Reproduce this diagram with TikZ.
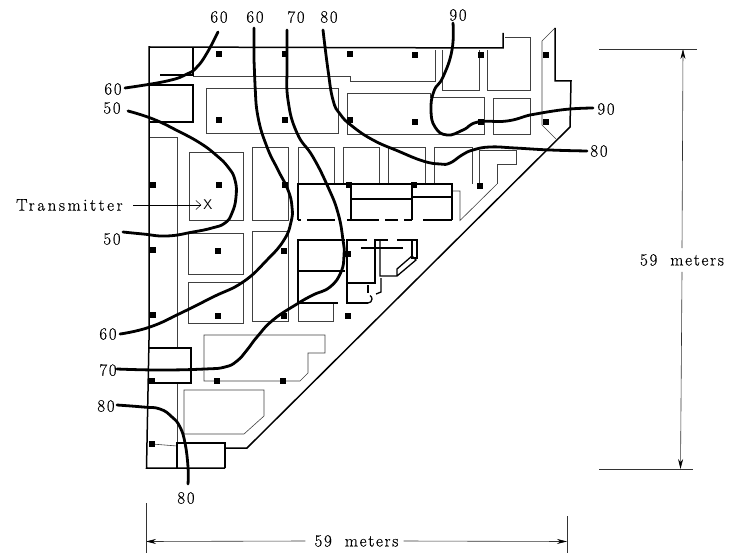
\documentclass[tikz,border=0pt]{standalone}
\usepackage{fontspec}
\setmainfont{Latin Modern Roman}
\newfontfamily\widefont[LetterSpace=10,FakeBold=0.4]{Latin Modern Roman}
\newfontfamily\widerfont[LetterSpace=15,FakeBold=0.4]{Latin Modern Roman}
\usetikzlibrary{arrows.meta}
\tikzset{
  thinw/.style={line width=0.6pt,black!75},
  wall/.style={line width=1.5pt,black},
  iwall/.style={line width=1.3pt,black},
  contour/.style={line width=2.8pt,black,line cap=round},
  lab/.style={font=\widefont\fontsize{17}{20}\selectfont,inner sep=0pt},
  dim/.style={line width=0.6pt,black!80,-{Stealth[length=10pt,width=5pt,black]}},
  tick/.style={line width=0.7pt,black!80},
  ap/.style={fill=black,inner sep=0pt,minimum size=5.2pt,rectangle},
  smoothc/.style={smooth,tension=0.8}
}
\begin{document}
\begin{tikzpicture}[x=1pt,y=-1pt]
\useasboundingbox (0,0) rectangle (730,553);
% thin interior blocks
\draw[thinw] (193,76)--(350,76)--(350,81)--(435,81)--(435,50);
\draw[thinw] (442,50)--(442,90)--(479,90)--(479,50);
\draw[thinw] (505,37)--(530,37)--(530,90)--(487,90)--(487,50);
\draw[thinw] (206,88)--(338,88)--(338,133)--(206,133)--cycle;
\draw[thinw] (347,93)--(430,93)--(430,97.5)--(484,97.5)--(484,134)--(347,134)--cycle;
\draw[thinw] (493,98)--(530,98)--(530,134)--(493,134)--cycle;
\draw[thinw] (555,28)--(542,41)--(542,125)--(556,139);
\draw[thinw] (149,137)--(177,137)--(177,348);
\draw[thinw] (177,384)--(177,443);
\draw[thinw] (189,152)--(243,152)--(243,220)--(189,220)--cycle;
\draw[thinw] (188,233)--(243,233)--(243,274)--(188,274)--cycle;
\draw[thinw] (188,282)--(243,282)--(243,323)--(188,323)--cycle;
\draw[thinw] (252,147)--(288,147)--(288,220)--(252,220)--cycle;
\draw[thinw] (252,231)--(288,231)--(288,321)--(252,321)--cycle;
\draw[thinw] (298,147)--(334,147)--(334,184);
\draw[thinw] (298,147)--(298,184);
\draw[thinw] (343,147)--(379,147)--(379,184);
\draw[thinw] (343,147)--(343,184);
\draw[thinw] (388,147)--(425,147)--(425,184);
\draw[thinw] (388,147)--(388,184);
\draw[thinw] (434,147)--(472,147)--(472,184);
\draw[thinw] (434,147)--(434,184);
\draw[thinw] (479,183)--(479,150)--(516,150)--(516,164)--(497,164)--(497,184);
\draw[thinw] (452,191)--(460,191)--(460,220.5)--(497,184);
\draw[thinw] (298,303)--(298,321)--(333,321)--(333,303);
\draw[thinw] (204,335)--(325,335)--(325,353)--(308,353)--(308,373)--(300,381)--(204,381)--cycle;
\draw[thinw] (184,390)--(264,390)--(264,416)--(244,434)--(184,434)--cycle;
\draw[thinw] (152,444)--(177,446);
% outer walls
\draw[wall] (503,33)--(503,48)--(149,47)--(149,340)--(146.5,468)--(225,468);
\draw[wall] (177,468)--(177,443)--(225,443)--(225,468);
\draw[wall] (225,448)--(247,448)--(570,127)--(571,81)--(555,81)--(555,28);
\draw[iwall] (193,47)--(193,75)--(160,75);
\draw[iwall] (149,85)--(193,85)--(193,122)--(149,122);
\draw[iwall] (148,348)--(191,348)--(191,383)--(148,383);
% centre building
\draw[iwall] (298,220)--(298,184)--(452,184)--(452,220);
\draw[iwall] (298,220)--(301,220) (307,220)--(335,220) (347,220)--(379,220) (385,220)--(398,220) (404,220)--(412,220) (423,220)--(452,220);
\draw[iwall] (351,186)--(351,220) (351,199)--(411,199) (412,186)--(412,220) (412,197)--(452,197);
\draw[iwall] (345,240)--(298,240)--(298,303)--(338,303) (298,271)--(345,271);
\draw[iwall] (367,240)--(347,240)--(347,303)--(368,303) (347,283)--(375,283)--(375,240)--(388,240);
\draw[iwall] (368,285)--(368,293);
\draw[iwall] (368,303) arc (90:-60:4);
\draw[iwall] (397,240)--(417,240)--(417,258)--(412,258)--(412,240);
\draw[iwall] (361,248)--(403,248);
\draw[iwall] (380,240)--(380,276)--(397,276)--(397,269)--(412,256)--(416,260)--(397,276);
\draw[iwall] (381,278)--(381,292)--(376,294);
% access points
\foreach \p in {
 (219,54),(285,54),(350,54),(415,55),(481,55),(546,55),
 (219,120),(285,120),(350,120),(415,122),(481,122),(546,122),
 (153,185),(219,185),(285,185),(349,185),(414,185),(480,186),
 (153,250),(218,251),(284,251),(348,254),
 (153,315),(218,316),(284,316),(348,316),
 (152,381),(217,381),(283,381),(152,444)}
  \node[ap] at \p {};
% contours
\draw[contour] plot[smoothc] coordinates {(218,32)(207,53)(197,67)(187,74)(167,81)(125,88)};
\draw[contour] plot[smoothc] coordinates {(254,28)(254,60)(255,85)(258,117)(267,147)(278,170)(288,190)(292,207)(291,222)(284,240)(267,260)(243,282)(213,297)(183,312)(150,327)(120,334)};
\draw[contour] plot[smoothc] coordinates {(287,30)(287,65)(288,100)(297,133)(313,157)(328,187)(338,213)(343,240)(344,255)(341,272)(330,287)(313,295)(297,304)(273,320)(257,337)(247,350)(237,361)(225,367)(205,369)(160,370)(117,369)};
\draw[contour] plot[smoothc] coordinates {(323,30)(328,70)(333,100)(340,114)(352,126)(373,140)(398,151)(423,161)(440,164)(450,163)(462,155)(473,150)(490,147)(515,148)(550,150)(587,151)};
\draw[contour] plot[smoothc] coordinates {(453,23)(452,50)(443,77)(434,91)(431,110)(435,127)(447,135)(463,130)(478,122)(507,121)(530,115)(547,112)(570,109)(593,108)};
\draw[contour] plot[smoothc] coordinates {(128,111)(153,119)(178,131)(200,143)(216,155)(228,167)(235,180)(236,197)(232,213)(225,223)(212,228)(193,232)(167,236)(143,234)(123,232)};
\draw[contour] plot[smoothc] coordinates {(117,405)(143,407)(160,409)(172,417)(180,427)(185,443)(188,467)(188,484)};
% labels
\node[lab] (l1) at (219,17) {60};
\node[lab] (l2) at (255,17) {60};
\node[lab] (l3) at (296,17) {70};
\node[lab] (l4) at (329,17) {80};
\node[lab] (l5) at (458,15) {90};
\node[lab] (l6) at (113,89) {60};
\node[lab] (l7) at (112,108) {50};
\node[lab] (l8) at (112,239) {50};
\node[lab] (l9) at (108,334) {60};
\node[lab] (l10) at (108,370) {70};
\node[lab] (l11) at (106,406) {80};
\node[lab] (l12) at (186,498) {80};
\node[lab] (l13) at (606,109) {90};
\node[lab] (l14) at (599,151) {80};
\node[lab,anchor=west,font=\widerfont\fontsize{17}{20}\selectfont] (tx) at (16,205) {Transmitter};
\node[font=\sffamily\fontsize{14}{16}\selectfont,inner sep=0pt] (x) at (208,205) {X};
\coordinate (ax) at (133,205);
\draw[line width=0.5pt,shorten >=2pt,-{Straight Barb[length=5pt,width=9pt]}] (ax) -- (x.west);
\coordinate (dt) at (683,49);
\coordinate (db) at (680.5,469);
\node[lab] (m1) at (682,260) {59\hspace{13pt}meters};
\draw[dim] (m1.north) ++(0,-6) -- (dt);
\draw[dim] (m1.south) ++(0,6) -- (db);
\draw[tick] (599,49)--(697,49) (599,469)--(693,469);
\coordinate (dl) at (146,541.5);
\coordinate (dr) at (567,541.5);
\node[lab] (m2) at (356.5,541) {59\hspace{13pt}meters};
\draw[dim] (m2.west)++(-9,0) -- (dl);
\draw[dim] (m2.east)++(5,0) -- (dr);
\draw[tick] (146,503)--(146,553) (567,516)--(567,553);
\end{tikzpicture}
\end{document}
